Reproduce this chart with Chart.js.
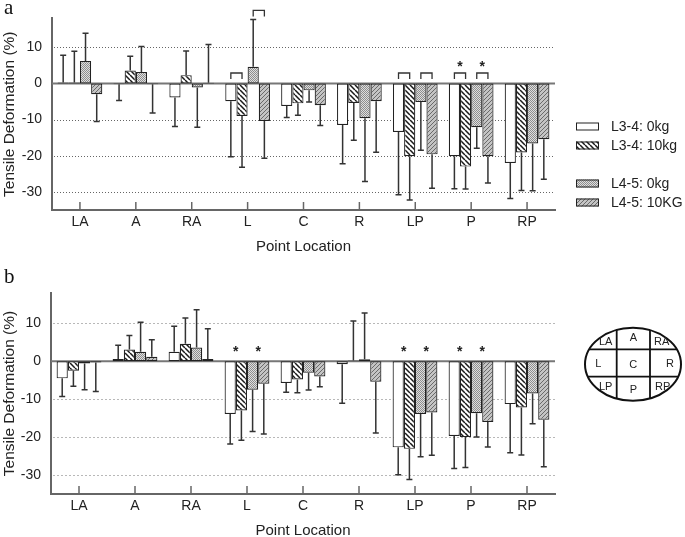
<!DOCTYPE html>
<html lang="en">
<head>
<meta charset="UTF-8">
<title>Tensile Deformation</title>
<script src="https://cdn.jsdelivr.net/npm/chart.js"></script>
<style>
  body { margin: 0; background: #fff; }
  #wrap { position: relative; width: 685px; height: 537px; overflow: hidden; }
  canvas { position: absolute; left: 0; }
  #chartA { top: 0; }
  #chartB { top: 268px; }
</style>
</head>
<body>
<div id="wrap">
  <canvas id="chartA" width="685" height="268"></canvas>
  <canvas id="chartB" width="685" height="276"></canvas>
</div>
<script>
const categories = ["LA", "A", "RA", "L", "C", "R", "LP", "P", "RP"];
const seriesLabels = ["L3-4: 0kg", "L3-4: 10kg", "L4-5: 0kg", "L4-5: 10KG"];
const yTicks = [10, 0, -10, -20, -30];

// panel a: means and SD (one-sided error bars)
const aL34_0kg   = [0.3, -0.2, -3.9, -4.9, -6.2, -11.5, -13.4, -20.1, -22.0];
const aL34_10kg  = [0.3, 3.6, 2.3, -9.0, -5.5, -5.4, -20.1, -23.0, -19.1];
const aL45_0kg   = [6.2, 3.2, -1.1, 4.6, -1.9, -9.6, -5.1, -12.1, -16.6];
const aL45_10kg  = [-3.0, -0.2, 0.2, -10.4, -6.0, -4.9, -19.6, -20.1, -15.4];
const aSd34_0    = [7.5, 4.5, 8.0, 15.4, 3.2, 10.7, 17.4, 9.0, 9.8];
const aSd34_10   = [8.6, 3.9, 6.7, 14.2, 3.3, 10.3, 12.1, 6.2, 10.5];
const aSd45_0    = [7.7, 7.0, 11.0, 13.1, 3.2, 17.5, 13.4, 5.8, 13.1];
const aSd45_10   = [7.5, 8.0, 10.6, 10.3, 5.6, 14.1, 9.4, 7.4, 11.1];

// panel b
const bL34_0kg   = [-4.5, 0.6, 2.5, -13.9, -5.7, -0.8, -22.7, -19.7, -11.3];
const bL34_10kg  = [-2.5, 3.1, 4.6, -13.0, -4.8, 0.2, -23.1, -20.0, -12.2];
const bL45_0kg   = [-0.6, 2.5, 3.6, -7.5, -3.0, 0.5, -13.9, -13.7, -8.5];
const bL45_10kg  = [-0.3, 1.2, 0.6, -5.9, -4.0, -5.4, -13.5, -16.0, -15.4];
const bSd34_0    = [4.8, 3.6, 6.7, 7.9, 2.5, 10.3, 7.2, 8.6, 12.8];
const bSd34_10   = [4.1, 3.7, 6.8, 7.8, 3.5, 10.4, 8.1, 8.0, 12.5];
const bSd45_0    = [6.9, 7.8, 10.0, 11.0, 4.6, 12.2, 11.3, 6.3, 8.0];
const bSd45_10   = [7.7, 4.5, 8.0, 13.3, 2.7, 13.5, 11.3, 6.6, 12.4];

// significance marks: [category, first bar of pair, level in %, bracket, star]
const sigA = [
  ["L", 0, 2.9, true, false], ["L", 2, 20.2, true, false],
  ["LP", 0, 2.9, true, false], ["LP", 2, 2.9, true, false],
  ["P", 0, 2.9, true, true], ["P", 2, 2.9, true, true]
];
const sigB = [
  ["L", 0, 3.1, false, true], ["L", 2, 3.1, false, true],
  ["LP", 0, 3.1, false, true], ["LP", 2, 3.1, false, true],
  ["P", 0, 3.1, false, true], ["P", 2, 3.1, false, true]
];

const FONT = 'Arial, "Liberation Sans", sans-serif';

function makeFill(kind) {
  if (kind === 0) return '#ffffff';
  const c = document.createElement('canvas');
  const x = c.getContext('2d');
  if (kind === 1) {
    const s = 5;
    c.width = c.height = s;
    x.fillStyle = '#fff'; x.fillRect(0, 0, s, s);
    x.strokeStyle = '#1a1a1a'; x.lineWidth = 1.5;
    x.beginPath();
    for (const k of [-1, 0, 1]) { x.moveTo(k * s, 0); x.lineTo(k * s + s, s); }
    x.stroke();
  } else if (kind === 2) {
    c.width = c.height = 2;
    x.fillStyle = '#dedede'; x.fillRect(0, 0, 2, 2);
    x.fillStyle = '#8e8e8e'; x.fillRect(0, 0, 1, 1); x.fillRect(1, 1, 1, 1);
  } else {
    const s = 4;
    c.width = c.height = s;
    x.fillStyle = '#c4c4c4'; x.fillRect(0, 0, s, s);
    x.strokeStyle = '#6a6a6a'; x.lineWidth = 1;
    x.beginPath();
    for (const k of [-1, 0, 1]) { x.moveTo(k * s, s); x.lineTo(k * s + s, 0); }
    x.stroke();
  }
  return x.createPattern(c, 'repeat');
}
const fills = [0, 1, 2, 3].map(makeFill);

function makeDatasets(means, sds) {
  return means.map((m, i) => ({
    label: seriesLabels[i],
    data: m,
    errors: sds[i],
    backgroundColor: fills[i],
    borderColor: '#222',
    borderWidth: 1.2,
    borderSkipped: false,
    categoryPercentage: 0.8,
    barPercentage: 1.0
  }));
}

function panelPlugin(o) {
  return {
    id: 'panel' + o.letter,
    beforeDatasetsDraw(chart) {
      const { ctx, chartArea: ca, scales: { y } } = chart;
      ctx.save();
      ctx.strokeStyle = o.gridColor;
      ctx.lineWidth = 1;
      ctx.setLineDash(o.gridDash);
      yTicks.forEach(v => {
        if (v === 0) return;
        const py = Math.round(y.getPixelForValue(v)) + 0.5;
        ctx.beginPath(); ctx.moveTo(ca.left + 2, py); ctx.lineTo(ca.right, py); ctx.stroke();
      });
      ctx.setLineDash([]);
      ctx.strokeStyle = '#777';
      ctx.lineWidth = 2;
      const z = y.getPixelForValue(0);
      ctx.beginPath(); ctx.moveTo(ca.left, z); ctx.lineTo(ca.right, z); ctx.stroke();
      ctx.restore();
    },
    afterDatasetsDraw(chart) {
      const { ctx, chartArea: ca, scales: { x, y } } = chart;
      ctx.save();
      // error bars
      ctx.strokeStyle = '#333';
      ctx.lineWidth = 1.5;
      chart.data.datasets.forEach((ds, d) => {
        chart.getDatasetMeta(d).data.forEach((bar, i) => {
          const v = ds.data[i];
          const end = v >= 0 ? v + ds.errors[i] : v - ds.errors[i];
          const y0 = y.getPixelForValue(v);
          const y1 = y.getPixelForValue(end);
          ctx.beginPath();
          ctx.moveTo(bar.x, y0); ctx.lineTo(bar.x, y1);
          ctx.moveTo(bar.x - 3, y1); ctx.lineTo(bar.x + 3, y1);
          ctx.stroke();
        });
      });
      // category ticks pointing up from the axis
      ctx.strokeStyle = '#666';
      ctx.lineWidth = 1.5;
      categories.forEach((c, i) => {
        const px = x.getPixelForTick(i);
        ctx.beginPath(); ctx.moveTo(px, ca.bottom); ctx.lineTo(px, ca.bottom - 8); ctx.stroke();
      });
      // significance marks
      o.sig.forEach(([cat, b, level, bracket, star]) => {
        const i = categories.indexOf(cat);
        const x1 = chart.getDatasetMeta(b).data[i].x;
        const x2 = chart.getDatasetMeta(b + 1).data[i].x;
        const py = y.getPixelForValue(level);
        if (bracket) {
          ctx.strokeStyle = '#333';
          ctx.lineWidth = 1.3;
          ctx.beginPath();
          ctx.moveTo(x1, py + 6); ctx.lineTo(x1, py); ctx.lineTo(x2, py); ctx.lineTo(x2, py + 6);
          ctx.stroke();
        }
        if (star) {
          const sy = bracket ? py - 9 : py;
          ctx.fillStyle = '#222';
          ctx.font = 'bold 14px ' + FONT;
          ctx.textAlign = 'center';
          ctx.textBaseline = 'middle';
          ctx.fillText('*', (x1 + x2) / 2, sy + 3);
        }
      });
      ctx.restore();
    },
    afterDraw(chart) {
      const { ctx } = chart;
      ctx.save();
      ctx.fillStyle = '#111';
      ctx.font = '21px "Liberation Serif", "Times New Roman", serif';
      ctx.textAlign = 'left';
      ctx.textBaseline = 'alphabetic';
      ctx.fillText(o.letter, 4, o.letterY);
      if (o.legend) drawLegend(ctx);
      if (o.inset) drawInset(ctx);
      ctx.restore();
    }
  };
}

function drawLegend(ctx) {
  const rows = [126.5, 145.5, 183.5, 202.5];
  ctx.font = '14px ' + FONT;
  ctx.textBaseline = 'middle';
  ctx.textAlign = 'left';
  seriesLabels.forEach((lab, i) => {
    ctx.fillStyle = fills[i];
    ctx.fillRect(576, rows[i] - 4, 23, 8);
    ctx.strokeStyle = '#222';
    ctx.lineWidth = 1;
    ctx.strokeRect(576.5, rows[i] - 3.5, 22, 7);
    ctx.fillStyle = '#222';
    ctx.fillText(lab, 611, rows[i] + 1);
  });
}

function drawInset(ctx) {
  const cx = 633, cy = 96.3, rx = 48, ry = 36.5;
  ctx.save();
  ctx.beginPath(); ctx.ellipse(cx, cy, rx, ry, 0, 0, Math.PI * 2); ctx.clip();
  ctx.strokeStyle = '#111'; ctx.lineWidth = 1.8;
  ctx.beginPath();
  ctx.moveTo(616.7, 0); ctx.lineTo(616.7, 200);
  ctx.moveTo(650, 0); ctx.lineTo(650, 200);
  ctx.moveTo(560, 81.3); ctx.lineTo(700, 81.3);
  ctx.moveTo(560, 108.7); ctx.lineTo(700, 108.7);
  ctx.stroke();
  ctx.restore();
  ctx.strokeStyle = '#111'; ctx.lineWidth = 2;
  ctx.beginPath(); ctx.ellipse(cx, cy, rx, ry, 0, 0, Math.PI * 2); ctx.stroke();
  ctx.fillStyle = '#222';
  ctx.font = '11px ' + FONT;
  ctx.textAlign = 'center';
  ctx.textBaseline = 'middle';
  [["LA", 605.7, 73.7], ["A", 633.3, 69.7], ["RA", 661.7, 73.7],
   ["L", 598.3, 96.3], ["C", 633.3, 97], ["R", 670, 96.3],
   ["LP", 605.7, 118.7], ["P", 633.3, 122], ["RP", 662.7, 118.7]]
    .forEach(([t, tx, ty]) => ctx.fillText(t, tx, ty));
}

function makeChart(id, means, sds, o) {
  return new Chart(document.getElementById(id), {
    type: 'bar',
    data: { labels: categories, datasets: makeDatasets(means, sds) },
    options: {
      responsive: false,
      animation: false,
      devicePixelRatio: 1,
      layout: { padding: { top: o.padTop, right: 130, bottom: o.padBottom, left: 0 } },
      plugins: { legend: { display: false }, tooltip: { enabled: false } },
      scales: {
        x: {
          offset: true,
          grid: { display: false, drawTicks: false },
          border: { display: true, color: '#666', width: 2 },
          ticks: { color: '#222', font: { family: FONT, size: 14 }, padding: 4, maxRotation: 0 },
          title: { display: true, text: 'Point Location', color: '#222', font: { family: FONT, size: 15 }, padding: { top: 0, bottom: 4 } },
          afterFit: s => { s.height = 50; }
        },
        y: {
          min: -35,
          max: 18,
          afterBuildTicks: s => { s.ticks = yTicks.map(v => ({ value: v })); },
          grid: { display: false, drawTicks: false },
          border: { display: true, color: '#666', width: 2 },
          ticks: { color: '#222', font: { family: FONT, size: 14 }, padding: 10, callback: v => String(v) },
          title: { display: true, text: 'Tensile Deformation (%)', color: '#222', font: { family: FONT, size: 15.5 }, padding: { top: 0, bottom: 0 } },
          afterFit: s => { s.width = o.axisW; }
        }
      }
    },
    plugins: [panelPlugin(o)]
  });
}

makeChart('chartA',
  [aL34_0kg, aL34_10kg, aL45_0kg, aL45_10kg],
  [aSd34_0, aSd34_10, aSd45_0, aSd45_10],
  { letter: 'a', letterY: 14, padTop: 10, padBottom: 8, axisW: 52, gridColor: '#666', gridDash: [1, 2], sig: sigA, legend: true });

makeChart('chartB',
  [bL34_0kg, bL34_10kg, bL45_0kg, bL45_10kg],
  [bSd34_0, bSd34_10, bSd45_0, bSd45_10],
  { letter: 'b', letterY: 15, padTop: 25, padBottom: 0, axisW: 51, gridColor: '#b8b8b8', gridDash: [2, 2], sig: sigB, inset: true });
</script>
</body>
</html>
